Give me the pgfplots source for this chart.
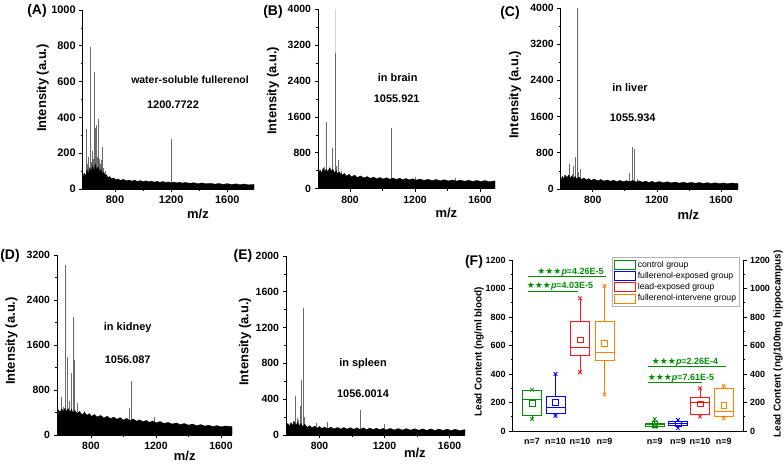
\documentclass[border=0pt]{standalone}
\usepackage{pgfplots}
\pgfplotsset{compat=1.18}
\usepgfplotslibrary{statistics}
\usepackage{fontspec}
\setmainfont{Liberation Sans}
\newfontfamily\djv{DejaVu Sans}
\definecolor{cgreen}{RGB}{0,140,0}
\definecolor{cblue}{RGB}{0,0,255}
\definecolor{cred}{RGB}{250,20,20}
\definecolor{corange}{RGB}{255,128,0}
\definecolor{pk}{gray}{0.42}
\pgfplotsset{
 spec/.style={scale only axis, anchor=south west, axis lines*=left, tick align=outside,
   major tick length=3.5bp, minor tick length=2bp, minor x tick num=1, minor y tick num=1,
   xtick={800,1200,1600}, ymin=0,
   tick label style={font=\fontsize{10.5}{12}\selectfont\bfseries},
   label style={font=\fontsize{13}{15}\selectfont\bfseries},
   ylabel={Intensity (a.u.)}, xlabel={m/z},
   /pgf/number format/assume math mode=true, /pgf/number format/1000 sep={},
   axis line style={line width=0.8bp}, every tick/.append style={line width=0.7bp, black},
   ylabel style={anchor=center}, xlabel style={anchor=center}},
 peaks/.style={ycomb, draw=pk, line width=0.6bp, forget plot},
 band/.style={fill=black, draw=black, line width=0.3bp, forget plot},
}
\tikzset{
 ann/.style={font=\fontsize{11}{13}\selectfont\bfseries},
 plab/.style={font=\fontsize{14}{16}\selectfont\bfseries},
}
\begin{document}
\begin{tikzpicture}[x=1bp,y=1bp]
\path[use as bounding box] (0,0) rectangle (784,465);

% ---------------- (A)
\begin{axis}[spec, at={(82.7bp,276bp)}, width=171.3bp, height=179bp, xmin=570, xmax=1790, ymax=1000,
  ytick={0,200,...,1000}, tick label style={font=\fontsize{11}{12}\selectfont\bfseries},
  ylabel style={at={(axis description cs:-0.2335,0.564)}},
  xlabel style={at={(axis description cs:0.673,-0.138)}}]
\addplot[peaks] coordinates {(593,335) (605,140) (612,180) (621,190) (626,795) (632,150) (640,210) (646,170) (652,655) (658,200) (663,340) (666,355) (672,180) (678,230) (683,390) (690,170) (697,140) (705,160) (712,235) (720,120) (730,100) (1198,280)};
\addplot[band] coordinates {(570,60) (580,90) (590,70) (600,110) (610,80) (620,120) (630,95) (640,130) (650,100) (660,140) (670,105) (680,125) (690,95) (700,110) (710,85) (720,95) (730,75) (740,80) (750,62) (760,70) (775,58) (790,62) (805,52) (820,56) (840,48) (860,54) (880,46) (900,50) (920,44) (940,49) (960,42) (980,47) (1000,41) (1020,46) (1040,40) (1060,44) (1080,38) (1100,43) (1120,37) (1140,42) (1160,36) (1180,40) (1200,35) (1220,39) (1240,34) (1260,38) (1280,33) (1300,37) (1330,32) (1360,35) (1390,30) (1420,34) (1450,29) (1480,32) (1510,27) (1540,31) (1570,26) (1600,30) (1630,25) (1660,29) (1690,24) (1720,28) (1750,23) (1790,26)} \closedcycle;
\end{axis}

% ---------------- (B)
\begin{axis}[spec, at={(318bp,276.3bp)}, width=177bp, height=179.4bp, xmin=603, xmax=1692, ymax=4000,
  ytick={0,800,...,4000},
  ylabel style={at={(axis description cs:-0.254,0.545)}},
  xlabel style={at={(axis description cs:0.725,-0.135)}}]
\addplot[ycomb, draw=gray!35, line width=0.5bp, forget plot] coordinates {(708,4000)};
\addplot[peaks] coordinates {(620,420) (640,480) (657,1495) (668,450) (680,420) (692,918) (708,3015) (718,500) (728,645) (745,400) (790,330) (830,310) (1053,1350) (1200,260) (1450,240)};
\addplot[band] coordinates {(603,300) (615,420) (625,350) (635,460) (645,380) (655,440) (665,360) (675,470) (685,390) (695,430) (705,350) (715,400) (725,330) (735,370) (750,300) (765,340) (780,280) (795,320) (810,260) (825,300) (845,250) (865,285) (885,240) (905,270) (925,230) (945,260) (965,220) (985,250) (1005,215) (1025,245) (1045,210) (1065,240) (1085,205) (1105,235) (1125,200) (1145,228) (1165,195) (1185,222) (1205,190) (1230,215) (1255,185) (1280,210) (1305,180) (1330,205) (1355,175) (1380,200) (1405,172) (1430,195) (1455,170) (1480,192) (1505,165) (1530,188) (1555,162) (1580,185) (1605,160) (1630,182) (1655,158) (1692,175)} \closedcycle;
\end{axis}

% ---------------- (C)
\begin{axis}[spec, at={(560.7bp,276bp)}, width=177.3bp, height=181bp, xmin=600, xmax=1706, ymax=4000,
  ytick={0,800,...,4000},
  ylabel style={at={(axis description cs:-0.258,0.52)}},
  xlabel style={at={(axis description cs:0.72,-0.144)}}]
\addplot[peaks] coordinates {(625,300) (653,545) (670,330) (680,500) (688,713) (701,4000) (710,380) (724,440) (1030,345) (1047,935) (1061,880) (1080,220)};
\addplot[band] coordinates {(600,180) (610,280) (620,230) (630,300) (640,250) (650,310) (660,240) (670,290) (680,230) (690,280) (700,220) (715,260) (730,210) (745,245) (760,200) (775,230) (790,190) (810,220) (830,180) (850,210) (870,175) (890,200) (910,170) (930,195) (950,165) (970,190) (990,160) (1010,185) (1030,160) (1050,190) (1070,155) (1090,180) (1110,150) (1130,175) (1150,145) (1170,170) (1190,140) (1215,165) (1240,138) (1265,160) (1290,135) (1315,155) (1340,130) (1365,150) (1390,128) (1415,148) (1440,125) (1465,145) (1490,122) (1515,140) (1540,120) (1565,138) (1590,118) (1615,135) (1640,115) (1665,132) (1706,120)} \closedcycle;
\end{axis}

% ---------------- (D)
\begin{axis}[spec, at={(57bp,30bp)}, width=175bp, height=180bp, xmin=591, xmax=1668, ymax=3200,
  ytick={0,800,...,3200},
  ylabel style={at={(axis description cs:-0.26,0.522)}},
  xlabel style={at={(axis description cs:0.73,-0.117)}}]
\addplot[peaks] coordinates {(620,681) (632,500) (643,3022) (657,1392) (668,600) (680,1096) (692,2104) (698,1333) (719,567) (760,420) (1033,480) (1051,966) (1190,320)};
\addplot[band] coordinates {(591,380) (600,450) (610,400) (620,470) (630,410) (640,480) (650,420) (660,470) (670,400) (680,460) (690,390) (700,440) (715,380) (730,420) (745,360) (760,400) (775,350) (790,380) (805,330) (820,365) (840,320) (860,350) (880,300) (900,335) (920,290) (940,320) (960,280) (980,310) (1000,265) (1020,295) (1040,255) (1060,285) (1080,245) (1100,270) (1120,235) (1140,260) (1160,225) (1180,250) (1200,215) (1225,240) (1250,205) (1275,225) (1300,195) (1325,215) (1350,185) (1375,205) (1400,175) (1425,195) (1450,165) (1475,185) (1500,158) (1525,175) (1550,150) (1575,168) (1600,145) (1625,160) (1668,150)} \closedcycle;
\end{axis}

% ---------------- (E)
\begin{axis}[spec, at={(286bp,30bp)}, width=179bp, height=179bp, xmin=594, xmax=1695, ymax=2000,
  ytick={0,400,...,2000},
  ylabel style={at={(axis description cs:-0.229,0.52)}},
  xlabel style={at={(axis description cs:0.72,-0.10)}}]
\addplot[peaks] coordinates {(640,160) (651,440) (663,186) (670,170) (681,320) (688,615) (703,1415) (708,200) (780,130) (847,150) (1049,280) (1200,120)};
\addplot[band] coordinates {(594,90) (605,130) (615,100) (625,140) (635,110) (645,150) (655,105) (665,140) (675,100) (685,130) (695,95) (710,120) (725,85) (740,105) (755,80) (770,100) (785,75) (800,95) (815,72) (830,90) (850,70) (870,88) (890,68) (910,85) (930,66) (950,84) (970,65) (990,82) (1010,63) (1030,80) (1050,62) (1070,80) (1090,60) (1110,78) (1130,60) (1150,76) (1170,58) (1190,75) (1210,57) (1235,74) (1260,56) (1285,72) (1310,55) (1335,71) (1360,54) (1385,70) (1410,53) (1435,69) (1460,52) (1485,68) (1510,51) (1535,67) (1560,50) (1585,66) (1610,50) (1635,65) (1660,49) (1695,60)} \closedcycle;
\end{axis}

% ---------------- (F) left axis: blood
\begin{axis}[scale only axis, anchor=south west, at={(512.7bp,34bp)}, width=230.3bp, height=171bp,
  xmin=0, xmax=230.3, ymin=0, ymax=1200, axis x line*=bottom, axis y line*=left,
  boxplot/draw direction=y,
  ytick={0,200,...,1200}, minor y tick num=1, tick align=outside, major tick length=3.5bp, minor tick length=2bp,
  xtick={19.3,42.8,67.3,91.8,142,165.3,187.3,211},
  xticklabels={{n=7},{n=10},{n=10},{n=9},{n=9},{n=9},{n=10},{n=9}},
  xtick style={draw=none},
  tick label style={font=\fontsize{9}{10}\selectfont\bfseries},
  /pgf/number format/assume math mode=true, /pgf/number format/1000 sep={},
  axis line style={line width=0.8bp}, every tick/.append style={line width=0.7bp, black},
  ylabel={Lead Content (ng/ml blood)},
  ylabel style={at={(axis description cs:-0.146,0.465)}, anchor=center, font=\fontsize{10}{12}\selectfont\bfseries},
  legend image code/.code={\draw[#1] (0bp,-4.5bp) rectangle (21bp,4.5bp);},
  legend style={at={(axis description cs:0.987,1.0175)}, anchor=north east, draw=gray!60, line width=0.8bp,
    font=\fontsize{8.7}{10}\selectfont, inner sep=1.5bp, row sep=-0.5bp, cells={anchor=west}}]
\addlegendimage{draw=cgreen, color=cgreen, line width=1.1bp}\addlegendentry{control group}
\addlegendimage{draw=cblue, color=cblue, line width=1.1bp}\addlegendentry{fullerenol-exposed group}
\addlegendimage{draw=cred, color=cred, line width=1.1bp}\addlegendentry{lead-exposed group}
\addlegendimage{draw=corange, color=corange, line width=1.1bp}\addlegendentry{fullerenol-intervene group}
% boxes, group 1
\addplot[draw=cgreen, line width=1bp, forget plot, boxplot prepared={lower whisker=84, lower quartile=112, median=222, upper quartile=283, upper whisker=290, draw position=19.3, box extend=19, whisker extend=0}] coordinates {};
\addplot[draw=cblue, line width=1bp, forget plot, boxplot prepared={lower whisker=105, lower quartile=122, median=168, upper quartile=245, upper whisker=400, draw position=42.8, box extend=19, whisker extend=0}] coordinates {};
\addplot[draw=cred, line width=1bp, forget plot, boxplot prepared={lower whisker=412, lower quartile=528, median=585, upper quartile=765, upper whisker=931, draw position=67.3, box extend=19, whisker extend=0}] coordinates {};
\addplot[draw=corange, line width=1bp, forget plot, boxplot prepared={lower whisker=255, lower quartile=498, median=552, upper quartile=765, upper whisker=1018, draw position=91.8, box extend=19, whisker extend=0}] coordinates {};
\addplot[cgreen, only marks, mark=x, mark size=2.6bp, line width=0.8bp, forget plot] coordinates {(19.3,84) (19.3,290)};
\addplot[cblue, only marks, mark=x, mark size=2.6bp, line width=0.8bp, forget plot] coordinates {(42.8,105) (42.8,400)};
\addplot[cred, only marks, mark=x, mark size=2.6bp, line width=0.8bp, forget plot] coordinates {(67.3,412) (67.3,931)};
\addplot[corange, only marks, mark=x, mark size=2.6bp, line width=0.8bp, forget plot] coordinates {(91.8,255) (91.8,1018)};
\addplot[cgreen, only marks, mark=square, mark size=2.8bp, line width=0.6bp, forget plot] coordinates {(19.3,194)};
\addplot[cblue, only marks, mark=square, mark size=2.8bp, line width=0.6bp, forget plot] coordinates {(42.8,203)};
\addplot[cred, only marks, mark=square, mark size=2.8bp, line width=0.6bp, forget plot] coordinates {(67.3,641)};
\addplot[corange, only marks, mark=square, mark size=2.8bp, line width=0.6bp, forget plot] coordinates {(91.8,615)};
% significance
\addplot[cgreen, line width=0.9bp, forget plot] coordinates {(15.6,1083) (93.3,1083)};
\addplot[cgreen, line width=0.9bp, forget plot] coordinates {(15.6,978) (65,978)};
\node[anchor=south, inner sep=0.6bp, text=cgreen, font=\fontsize{9}{10}\selectfont\bfseries] at (axis cs:57.8,1083) {{\djv\fontsize{9}{10}\selectfont ★★★}\textit{p}=4.26E-5};
\node[anchor=south, inner sep=0.6bp, text=cgreen, font=\fontsize{9}{10}\selectfont\bfseries] at (axis cs:47.3,978) {{\djv\fontsize{9}{10}\selectfont ★★★}\textit{p}=4.03E-5};
\end{axis}

% ---------------- (F) right axis: hippocampus
\begin{axis}[scale only axis, anchor=south west, at={(512.7bp,34bp)}, width=230.3bp, height=171bp,
  xmin=0, xmax=230.3, ymin=0, ymax=1200, axis x line=none, axis y line*=right,
  boxplot/draw direction=y,
  ytick={0,200,...,1200}, minor y tick num=1, tick align=outside, major tick length=3.5bp, minor tick length=2bp,
  tick label style={font=\fontsize{9}{10}\selectfont\bfseries},
  /pgf/number format/assume math mode=true, /pgf/number format/1000 sep={},
  axis line style={line width=0.8bp}, every tick/.append style={line width=0.7bp, black},
  ylabel={Lead Content (ng/100mg hippocampus)},
  ylabel style={at={(axis description cs:1.152,0.509)}, anchor=center, font=\fontsize{10}{12}\selectfont\bfseries}]
\addplot[draw=cgreen, line width=1bp, boxplot prepared={lower whisker=30, lower quartile=35, median=45, upper quartile=54, upper whisker=85, draw position=142, box extend=19, whisker extend=0}] coordinates {};
\addplot[draw=cblue, line width=1bp, boxplot prepared={lower whisker=20, lower quartile=42, median=55, upper quartile=68, upper whisker=77, draw position=165.3, box extend=19, whisker extend=0}] coordinates {};
\addplot[draw=cred, line width=1bp, boxplot prepared={lower whisker=101, lower quartile=117, median=201, upper quartile=236, upper whisker=300, draw position=187.3, box extend=19, whisker extend=0}] coordinates {};
\addplot[draw=corange, line width=1bp, boxplot prepared={lower whisker=87, lower quartile=101, median=140, upper quartile=300, upper whisker=318, draw position=211, box extend=19, whisker extend=0}] coordinates {};
\addplot[cgreen, only marks, mark=x, mark size=2.6bp, line width=0.8bp] coordinates {(142,30) (142,85)};
\addplot[cblue, only marks, mark=x, mark size=2.6bp, line width=0.8bp] coordinates {(165.3,20) (165.3,77)};
\addplot[cred, only marks, mark=x, mark size=2.6bp, line width=0.8bp] coordinates {(187.3,101) (187.3,300)};
\addplot[corange, only marks, mark=x, mark size=2.6bp, line width=0.8bp] coordinates {(211,87) (211,318)};
\addplot[cgreen, only marks, mark=square, mark size=2.8bp, line width=0.6bp] coordinates {(142,45)};
\addplot[cblue, only marks, mark=square, mark size=2.8bp, line width=0.6bp] coordinates {(165.3,50)};
\addplot[cred, only marks, mark=square, mark size=2.8bp, line width=0.6bp] coordinates {(187.3,192)};
\addplot[corange, only marks, mark=square, mark size=2.8bp, line width=0.6bp] coordinates {(211,182)};
\addplot[cgreen, line width=0.9bp] coordinates {(135.6,451) (213,451)};
\addplot[cgreen, line width=0.9bp] coordinates {(135.6,339) (189,339)};
\node[anchor=south, inner sep=0.6bp, text=cgreen, font=\fontsize{9}{10}\selectfont\bfseries] at (axis cs:172.3,451) {{\djv\fontsize{9}{10}\selectfont ★★★}\textit{p}=2.26E-4};
\node[anchor=south, inner sep=0.6bp, text=cgreen, font=\fontsize{9}{10}\selectfont\bfseries] at (axis cs:168.2,339) {{\djv\fontsize{9}{10}\selectfont ★★★}\textit{p}=7.61E-5};
\end{axis}

% ---------------- annotations and panel letters
\node[font=\fontsize{10.5}{12}\selectfont\bfseries] at (190,385) {water-soluble fullerenol};
\node[ann] at (173,360) {1200.7722};
\node[ann] at (397.7,387) {in brain};
\node[ann] at (396.7,366) {1055.921};
\node[ann] at (630,377) {in liver};
\node[ann] at (632.7,347) {1055.934};
\node[ann] at (127.7,137) {in kidney};
\node[ann] at (127.7,105) {1056.087};
\node[ann] at (363,101) {in spleen};
\node[ann] at (363,71) {1056.0014};
\node[plab] at (37,454) {(A)};
\node[plab] at (273,453) {(B)};
\node[plab] at (510,452) {(C)};
\node[plab] at (10,209) {(D)};
\node[plab] at (243,209) {(E)};
\node[plab] at (474,203) {(F)};
\end{tikzpicture}
\end{document}
